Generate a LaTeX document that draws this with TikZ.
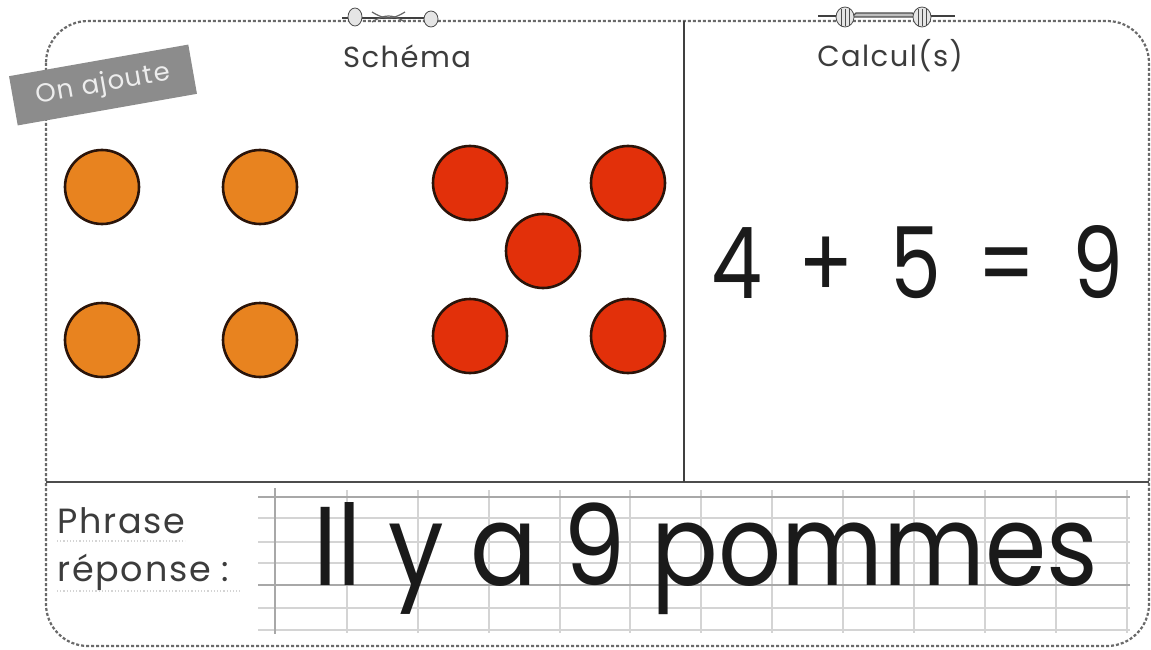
\documentclass[tikz,border=0pt]{standalone}
\usepackage{fontspec}
\setmainfont{Poppins}
\newfontfamily\widefont[LetterSpace=5]{Poppins}
\usepackage{graphicx}
\definecolor{orangeball}{HTML}{E8831F}
\definecolor{redball}{HTML}{E2300A}
\definecolor{balledge}{HTML}{2A140A}
\definecolor{frame}{HTML}{6A6A6A}
\definecolor{tagfill}{HTML}{8C8C8C}
\definecolor{gridlight}{HTML}{D4D4D4}
\definecolor{griddark}{HTML}{A8A8A8}
\definecolor{ink}{HTML}{1A1A1A}
\tikzset{
  ball/.style={circle, draw=balledge, line width=2.6pt, minimum size=74pt, inner sep=0pt},
  orangeb/.style={ball, fill=orangeball},
  redb/.style={ball, fill=redball},
  heading/.style={font=\widefont\fontsize{29}{32}\selectfont, text=ink!85},
  label/.style={font=\widefont\fontsize{35}{40}\selectfont, text=ink!85, anchor=base west, inner sep=0pt},
  coil/.style={draw=black!70, fill=black!10, line width=0.8pt},
}
\begin{document}
\begin{tikzpicture}[x=1pt,y=-1pt]
\useasboundingbox (0,0) rectangle (1151,650);
% lined paper
\foreach \yy in {518,542,563,608,630} \draw[gridlight, line width=1.6pt] (258,\yy) -- (1130,\yy);
\foreach \xx in {347,418,489,560,630,701,772,843,914,985,1056,1127} \draw[gridlight, line width=1.4pt] (\xx,490) -- (\xx,633);
\foreach \yy in {497,585} \draw[griddark, line width=2pt] (258,\yy) -- (1130,\yy);
\draw[griddark, line width=2pt] (275,488) -- (275,634);
% outer frame
\draw[frame, line width=2.2pt, dash pattern=on 3pt off 2pt, rounded corners=42pt] (46,21) rectangle (1149,646);
% dividers
\draw[black!70, line width=2pt] (46,482) -- (1149,482);
\draw[black!75, line width=1.4pt] (684,21) -- (684,482);
% ornaments
\draw[black!75, line width=1.6pt] (342,18) -- (430,18);
\draw[black!60, line width=1.2pt] (372,12) .. controls (385,20) and (392,20) .. (405,12);
\draw[black!60, line width=1.2pt] (372,22) .. controls (385,14) and (392,14) .. (405,22);
\draw[coil] (355,17) ellipse (7 and 9);
\draw[coil] (431,19) ellipse (7 and 8);
\draw[black!75, line width=1.4pt] (818,16) -- (955,16);
\draw[black!70, line width=1.4pt, fill=black!25] (856,13) -- (912,13) -- (918,17) -- (852,17) -- cycle;
\draw[coil] (845,17) ellipse (9 and 10);
\draw[coil] (922,17) ellipse (9 and 10);
\foreach \dx in {-4,0,4} {
  \draw[black!70, line width=0.8pt] (845+\dx,9) -- (845+\dx,26);
  \draw[black!70, line width=0.8pt] (922+\dx,9) -- (922+\dx,26);
}
% tag
\node[fill=tagfill, rotate=10, minimum width=182pt, minimum height=50pt, inner sep=2pt, text=white!93!black,
      font=\widefont\fontsize{26}{28}\selectfont] (tag) at (103,85) {On ajoute};
% headings
\node[heading] (schema) at (407,56) {Schéma};
\node[heading] (calcul) at (890,56) {Calcul(s)};
% balls
\node[orangeb] (o1) at (102,187) {};
\node[orangeb] (o2) at (260,187) {};
\node[orangeb] (o3) at (102,340) {};
\node[orangeb] (o4) at (260,340) {};
\node[redb] (r1) at (470,183) {};
\node[redb] (r2) at (628,183) {};
\node[redb] (r3) at (543,251) {};
\node[redb] (r4) at (470,336) {};
\node[redb] (r5) at (628,336) {};
% calculation
\node[anchor=base west, inner sep=0pt, text=ink] (calc) at (711,298)
  {\resizebox{412pt}{73pt}{\fontsize{100}{100}\selectfont 4\hspace{0.45em}+\hspace{0.45em}5\hspace{0.45em}=\hspace{0.45em}9}};
% answer label
\node[label] (phrase) at (57,533) {Phrase};
\node[label] (reponse) at (57,581) {réponse :};
\draw[gridlight, line width=1.2pt, dotted] (57,541) -- (185,541);
\draw[gridlight, line width=1.2pt, dotted] (57,591) -- (240,591);
% answer
\node[anchor=base west, inner sep=0pt, text=ink] (answer) at (313,585)
  {\resizebox{785pt}{83pt}{\fontsize{110}{110}\selectfont Il y a 9 pommes}};
\end{tikzpicture}
\end{document}
